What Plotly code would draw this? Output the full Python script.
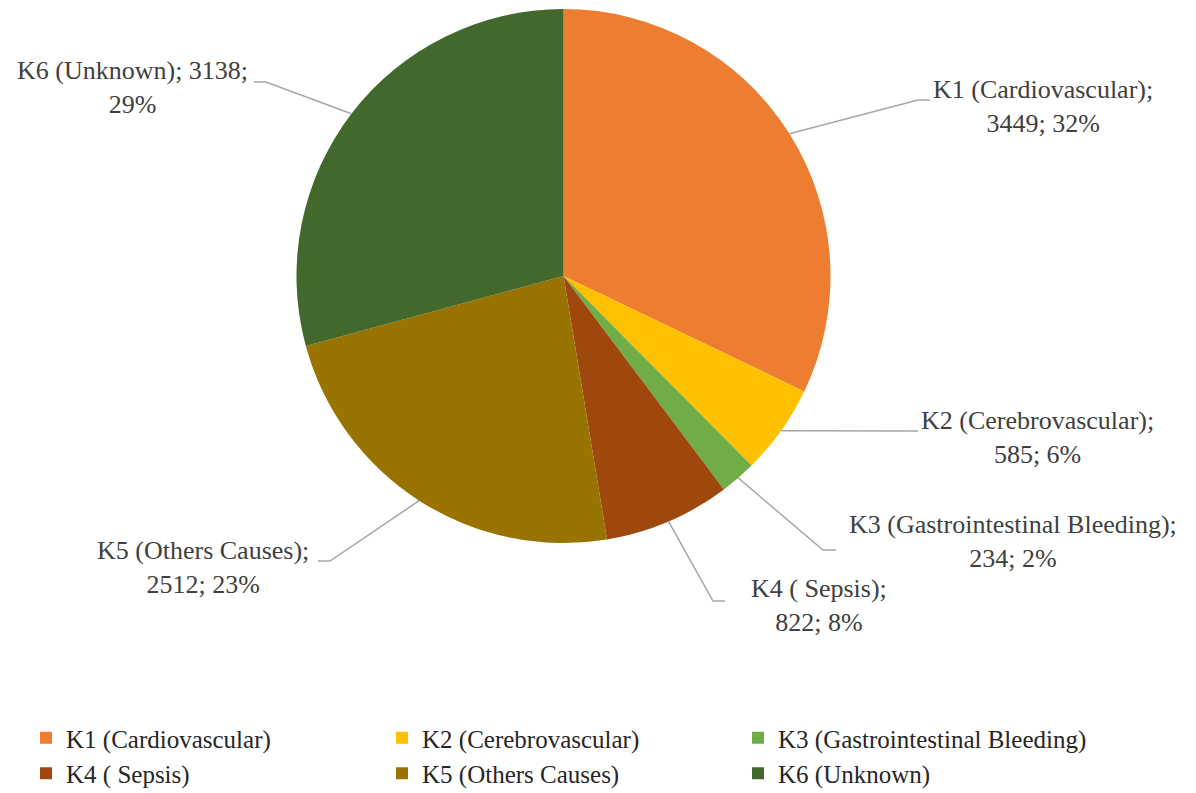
import math
import plotly.graph_objects as go

# ---- data ----
categories = ["K1 (Cardiovascular)", "K2 (Cerebrovascular)", "K3 (Gastrointestinal Bleeding)",
              "K4 ( Sepsis)", "K5 (Others Causes)", "K6 (Unknown)"]
values = [3449, 585, 234, 822, 2512, 3138]
pct_labels = ["32%", "6%", "2%", "8%", "23%", "29%"]

# ---- style ----
colors = ["#ED7D31", "#FFC000", "#70AD47", "#9E480E", "#997300", "#43682B"]
W, H = 1196, 793
OFF = 8  # page body margin
CX, CY, R = 563.5, 276, 267
FONT = "Liberation Serif"

# label layout: (elbow x, elbow y, end-of-line x, text x, text y, xanchor, break position)
label_layout = [
    (918, 100, 930, 932, 106, "left", 1),
    (905, 431, 918, 920, 437, "left", 1),
    (823, 550, 836, 848, 541, "left", 1),
    (713, 601, 725, 750, 605, "left", 1),
    (330, 561, 318, 310, 567, "right", 1),
    (266, 82, 254, 249, 88, "right", 2),
]


def px(x):
    return (x - OFF) / W


def py(y):
    return 1 - (y - OFF) / H


fig = go.Figure()
fig.add_trace(go.Pie(
    labels=categories, values=values, sort=False, direction="clockwise", rotation=0,
    marker=dict(colors=colors, line=dict(width=0)),
    textinfo="none", hoverinfo="label+value+percent",
    domain=dict(x=[px(CX - R), px(CX + R)], y=[py(CY + R), py(CY - R)]),
))

total = sum(values)
cum = 0
shapes = []
annotations = []
for i, v in enumerate(values):
    mid = (cum + v / 2) / total * 2 * math.pi
    cum += v
    sx = CX + R * math.sin(mid)
    sy = CY - R * math.cos(mid)
    ex, ey, hx, tx, ty, anchor, brk = label_layout[i]
    shapes.append(dict(type="path", xref="paper", yref="paper",
                       path=f"M{px(sx)},{py(sy)} L{px(ex)},{py(ey)} L{px(hx)},{py(ey)}",
                       line=dict(color="#A6A6A6", width=1.5)))
    parts = [categories[i] + ";", f"{values[i]};", pct_labels[i]]
    text = " ".join(parts[:brk]) + "<br>" + " ".join(parts[brk:])
    annotations.append(dict(x=px(tx), y=py(ty), xref="paper", yref="paper", text=text,
                            showarrow=False, xanchor=anchor, yanchor="middle", align="center",
                            font=dict(family=FONT, size=26, color="#404040"), borderpad=0))

fig.update_layout(
    width=W, height=H, margin=dict(l=0, r=0, t=0, b=0),
    paper_bgcolor="white", plot_bgcolor="white",
    shapes=shapes, annotations=annotations,
    showlegend=True,
    legend=dict(orientation="h", x=px(26), xanchor="left", y=py(715), yanchor="top",
                entrywidth=311, entrywidthmode="pixels",
                font=dict(family=FONT, size=25, color="#262626"), traceorder="normal"),
)
fig.write_html("out.html")
